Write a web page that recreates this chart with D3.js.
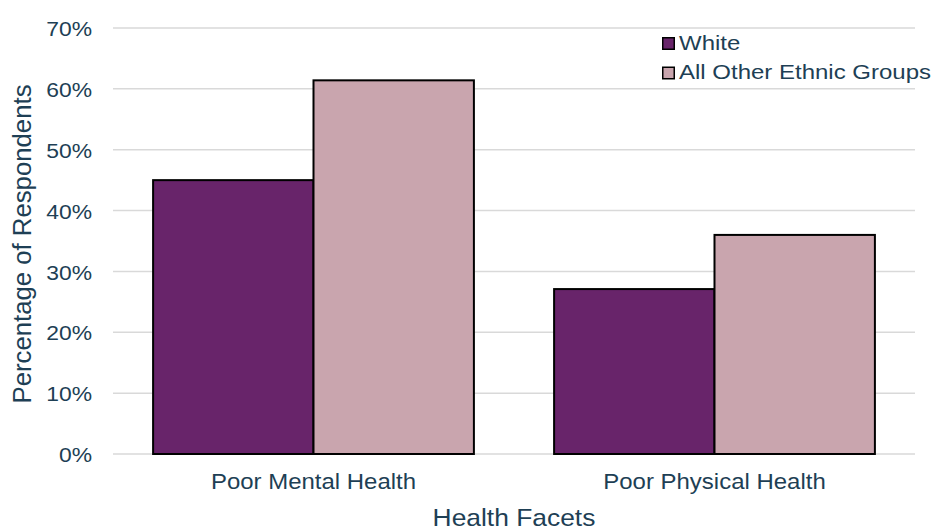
<!DOCTYPE html>
<html>
<head>
<meta charset="utf-8">
<script src="https://cdn.jsdelivr.net/npm/d3@7/dist/d3.min.js"></script>
<style>
  html, body { margin: 0; padding: 0; background: #fff; }
  svg { display: block; font-family: "Liberation Sans", Arial, sans-serif; }
</style>
</head>
<body>
<svg id="chart" width="935" height="532"></svg>
<script>
// Survey results by health facet
const categories = ["Poor Mental Health", "Poor Physical Health"];
const seriesNames = ["White", "All Other Ethnic Groups"];
const whiteValues = [45.0, 27.1];
const otherValues = [61.4, 36.0];
const yTicks = [0, 10, 20, 30, 40, 50, 60, 70];

const colors = { "White": "#68246A", "All Other Ethnic Groups": "#C9A5AE" };
const textColor = "#1E3F55";

const svg = d3.select("#chart");
const margin = { left: 113, right: 20, top: 28, bottom: 78 };
const W = 935, H = 532;

const x0 = d3.scaleBand().domain(categories)
  .range([margin.left, W - margin.right])
  .paddingInner(0.2).paddingOuter(0.1);
const x1 = d3.scaleBand().domain(seriesNames).range([0, x0.bandwidth()]);
const y = d3.scaleLinear().domain([0, 70]).range([H - margin.bottom, margin.top]);

// gridlines
svg.append("g").selectAll("line").data(yTicks).join("line")
  .attr("x1", margin.left).attr("x2", W - margin.right)
  .attr("y1", d => y(d)).attr("y2", d => y(d))
  .attr("stroke", "#d9d9d9").attr("stroke-width", 1.5);

// y axis labels (slightly wide lettering)
const yAxis = d3.axisLeft(y).tickValues(yTicks).tickFormat(d => d + "%").tickSize(0).tickPadding(0);
const ya = svg.append("g").attr("transform", `translate(92,0)`).call(yAxis);
ya.select(".domain").remove();
ya.selectAll("text").attr("fill", textColor).style("font-size", "21px")
  .style("font-family", "'Liberation Sans', Arial, sans-serif")
  .attr("x", 0).attr("dy", "0.36em").attr("transform", "scale(1.09,1)");

// bars
const rows = categories.map((c, i) => ({ cat: c, vals: [whiteValues[i], otherValues[i]] }));
const groups = svg.append("g").selectAll("g").data(rows).join("g")
  .attr("transform", d => `translate(${x0(d.cat)},0)`);
groups.selectAll("rect").data(d => d.vals.map((v, j) => ({ name: seriesNames[j], v })))
  .join("rect")
  .attr("x", d => x1(d.name)).attr("width", x1.bandwidth())
  .attr("y", d => y(d.v)).attr("height", d => y(0) - y(d.v))
  .attr("fill", d => colors[d.name])
  .attr("stroke", "#000").attr("stroke-width", 2);

// x axis labels
const xAxis = d3.axisBottom(x0).tickSize(0).tickPadding(0);
const xa = svg.append("g").attr("transform", `translate(0,489)`).call(xAxis);
xa.select(".domain").remove();
xa.selectAll("text").attr("fill", textColor).style("font-size", "22px")
  .style("font-family", "'Liberation Sans', Arial, sans-serif")
  .attr("y", 0).attr("dy", 0).attr("transform", "scale(1.09,1)");

// axis titles
svg.append("text")
  .attr("transform", `translate(${(margin.left + W - margin.right) / 2},526) scale(1.1,1)`)
  .attr("text-anchor", "middle").attr("fill", textColor).style("font-size", "24px")
  .text("Health Facets");
svg.append("text")
  .attr("transform", `translate(31,244) rotate(-90) scale(1.03,1)`)
  .attr("text-anchor", "middle").attr("fill", textColor).style("font-size", "25px")
  .text("Percentage of Respondents");

// legend
const legend = svg.append("g").attr("transform", "translate(662,37)");
const li = legend.selectAll("g").data(seriesNames).join("g")
  .attr("transform", (d, i) => `translate(0,${i * 29.5})`);
li.append("rect").attr("x", 0.75).attr("y", 0.75).attr("width", 11.5).attr("height", 11.5)
  .attr("fill", d => colors[d]).attr("stroke", "#000").attr("stroke-width", 1.5);
li.append("text").attr("transform", "translate(17,12.5) scale(1.2,1)")
  .attr("fill", textColor).style("font-size", "20px").text(d => d);
</script>
</body>
</html>
